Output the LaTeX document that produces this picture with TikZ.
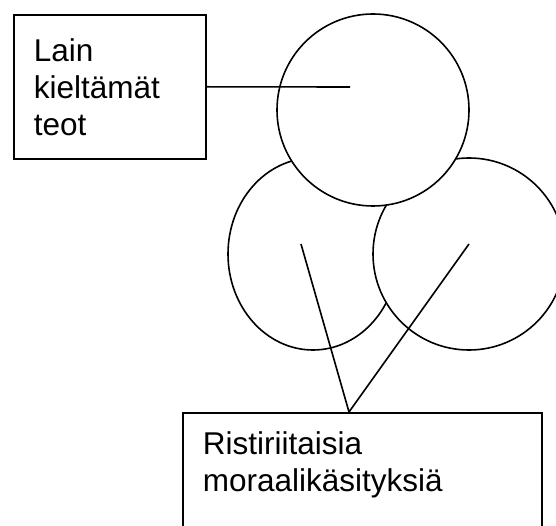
\documentclass[tikz,border=0pt]{standalone}
\usepackage{fontspec}
\setmainfont{Liberation Sans}
\usetikzlibrary{positioning,shapes.geometric}

\tikzset{
    viiva/.style={line width=1.6pt},
    ympyra/.style={viiva, draw, fill=white, circle, inner sep=0pt},
    laatikko/.style={viiva, draw, fill=white, anchor=north west, align=left,
        inner xsep=20pt, font=\fontsize{31.5}{37}\selectfont}
}

\begin{document}
\begin{tikzpicture}[x=1pt, y=-1pt]
    \clip (0,0) rectangle (556,526);

    % Ympyrat
    \node[ympyra, minimum width=170pt, minimum height=192pt, ellipse] (vasen) at (313,254) {};
    \node[ympyra, minimum size=192pt] (oikea) at (469,254) {};
    \node[ympyra, minimum size=192pt] (yla) at (373,110) {};

    % Laatikot
    \node[laatikko, text width=152pt, minimum height=144pt] (laki) at (13,14) {Lain\\kieltämät\\teot};
    \node[laatikko, text width=319pt, inner ysep=19pt, text depth=140pt] (moraali) at (182,412) {Ristiriitaisia\\moraalikäsityksiä};

    % Viivat
    \coordinate (ylapiste) at (350,87);
    \coordinate (vasenpiste) at (301,244);
    \coordinate (oikeapiste) at (469,244);
    \coordinate (kohta) at (349,412);
    \draw[viiva] (laki.east) -- (ylapiste);
    \draw[viiva] (vasenpiste) -- (kohta) -- (oikeapiste);
\end{tikzpicture}
\end{document}
